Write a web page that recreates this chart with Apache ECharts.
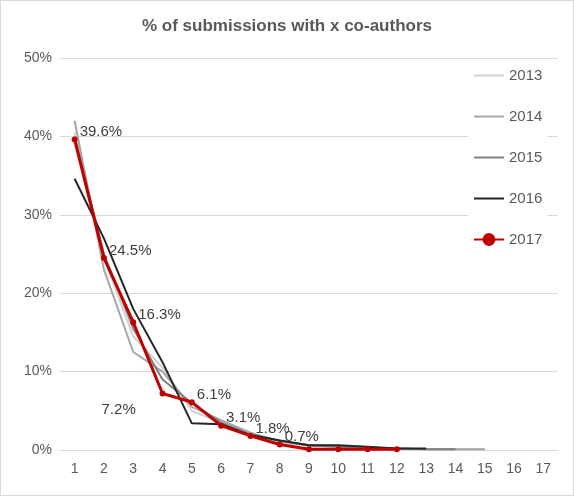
<!DOCTYPE html><html><head><meta charset="utf-8"><script src="https://cdn.jsdelivr.net/npm/echarts@6/dist/echarts.min.js"></script>
<style>body{margin:0}#c{width:572px;height:494px;border:1px solid #d9d9d9}</style></head><body><div id="c"></div><script>
const categories=['1','2','3','4','5','6','7','8','9','10','11','12','13','14','15','16','17'];
const y2013=[40.5,24.5,14.5,10.5,5,3.5,2,1,0.5,0.4,0.3,0.2,0.1,0.1,0.1];
const y2014=[42,23,12.5,10,5.5,3.8,2.2,1.1,0.6,0.5,0.3,0.2,0.1,0.1,0.1];
const y2015=[40,25,15.5,9,6,3.5,2,1.2,0.6,0.4,0.3,0.2,0.1,0.1];
const y2016=[34.6,27,18,11.2,3.4,3.3,1.9,1.2,0.6,0.6,0.4,0.2,0.2];
const y2017=[39.6,24.5,16.3,7.2,6.1,3.1,1.8,0.7,0.1,0.1,0.1,0.1];
const labels2017=['39.6%','24.5%','16.3%','7.2%','6.1%','3.1%','1.8%','0.7%','','','',''];
const c=echarts.init(document.getElementById('c'));
const ln=(n,d,col,w)=>({name:n,type:'line',data:d,symbol:'none',lineStyle:{color:col,width:w},itemStyle:{color:col}});
const s17={name:'2017',type:'line',data:y2017.map((v,i)=>({value:v,label:{show:!!labels2017[i],position:i==3?[-58,12]:[8,-12]}})),
 symbol:'circle',symbolSize:6,lineStyle:{color:'#c00000',width:3},itemStyle:{color:'#c00000'},z:10,
 label:{formatter:p=>labels2017[p.dataIndex],color:'#404040',fontSize:15,fontFamily:'Liberation Sans, sans-serif'}};
const leg=['2013','2014','2015','2016'].map(n=>({name:n,itemStyle:{opacity:0}}));
leg.push({name:'2017'});
c.setOption({animation:false,
title:{text:'% of submissions with x co-authors',left:'center',top:12,textStyle:{fontSize:17,fontWeight:'bold',color:'#595959',fontFamily:'Liberation Sans, sans-serif'}},
legend:{orient:'vertical',left:467,top:62,itemGap:26,itemWidth:30,itemHeight:16,backgroundColor:'#fff',textStyle:{fontSize:15,color:'#595959'},data:leg},
grid:{left:59,right:15,top:57,bottom:45},
xAxis:{type:'category',data:categories,axisTick:{show:false},axisLine:{lineStyle:{color:'#d9d9d9'}},axisLabel:{color:'#595959',fontSize:14,margin:12}},
yAxis:{type:'value',min:0,max:50,interval:10,axisLabel:{formatter:'{value}%',color:'#595959',fontSize:14},splitLine:{lineStyle:{color:'#d9d9d9'}}},
series:[ln('2013',y2013,'#d0d0d0',2),ln('2014',y2014,'#a6a6a6',2),ln('2015',y2015,'#808080',2),ln('2016',y2016,'#262626',2),s17]});
</script></body></html>
